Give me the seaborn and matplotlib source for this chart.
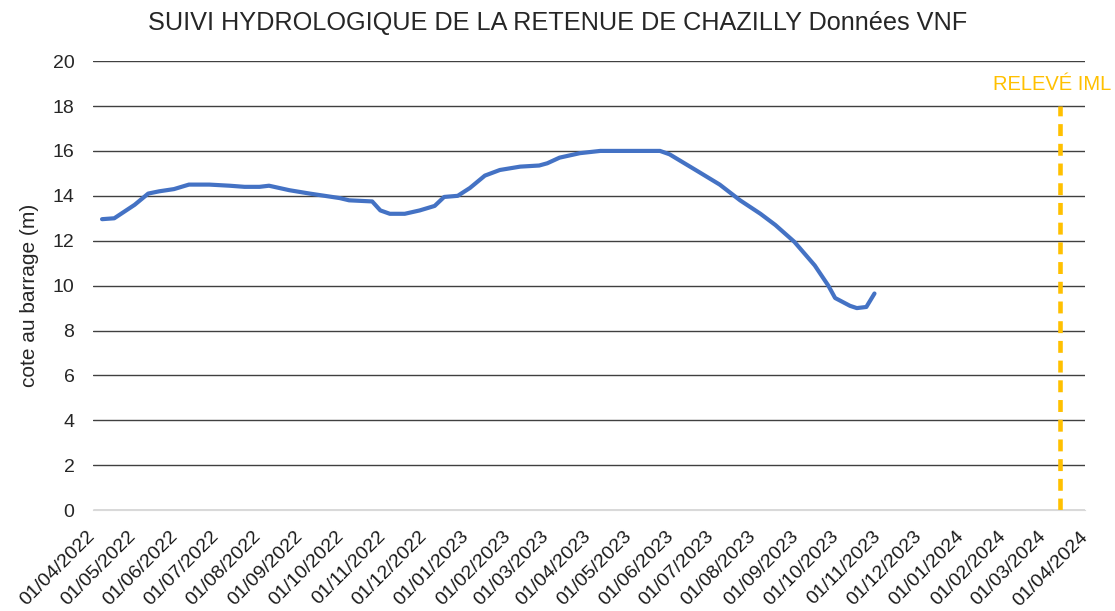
import seaborn as sns
import pandas as pd
import matplotlib.pyplot as plt
import matplotlib.dates as mdates
import matplotlib.transforms as mtransforms

# (dd/mm/yyyy, cote in m)
dates = ["08/04/2022", "17/04/2022", "02/05/2022", "12/05/2022", "20/05/2022", "31/05/2022",
         "11/06/2022", "26/06/2022", "11/07/2022", "22/07/2022", "02/08/2022", "09/08/2022",
         "24/08/2022", "08/09/2022", "30/09/2022", "07/10/2022", "24/10/2022", "30/10/2022",
         "06/11/2022", "17/11/2022", "28/11/2022", "09/12/2022", "16/12/2022", "26/12/2022",
         "04/01/2023", "15/01/2023", "26/01/2023", "10/02/2023", "24/02/2023", "02/03/2023",
         "11/03/2023", "26/03/2023", "10/04/2023", "24/05/2023", "31/05/2023", "22/06/2023",
         "07/07/2023", "22/07/2023", "06/08/2023", "17/08/2023", "31/08/2023", "15/09/2023",
         "25/09/2023", "30/09/2023", "11/10/2023", "16/10/2023", "23/10/2023", "29/10/2023"]
cote = [12.96, 13.0, 13.6, 14.1, 14.2, 14.3,
        14.5, 14.5, 14.45, 14.4, 14.4, 14.45,
        14.25, 14.1, 13.9, 13.8, 13.75, 13.35,
        13.2, 13.2, 13.35, 13.55, 13.95, 14.0,
        14.35, 14.9, 15.15, 15.3, 15.35, 15.45,
        15.7, 15.9, 16.0, 16.0, 15.85, 15.05,
        14.5, 13.8, 13.2, 12.7, 11.95, 10.9,
        10.0, 9.45, 9.1, 9.0, 9.05, 9.65]

releve_date = "14/03/2024"
releve_top = 18.0
releve_label = "RELEVÉ IML"

df = pd.DataFrame({"date": pd.to_datetime(dates, dayfirst=True), "cote": cote})

sns.set_style("white")
plt.rcParams['font.family'] = ['Liberation Sans', 'DejaVu Sans']

fig, ax = plt.subplots(figsize=(11.15, 6.11), dpi=100)
fig.subplots_adjust(left=0.083, right=0.973, top=0.9, bottom=0.165)

sns.lineplot(data=df, x="date", y="cote", color="#4472C4", linewidth=3, ax=ax)

rel = pd.to_datetime(releve_date, dayfirst=True)
ax.vlines(rel, 0, releve_top, color="#FFC000", linewidth=3.3, linestyles=[(0, (2.6, 1.7))])
ax.annotate(releve_label, xy=(rel, 18.95), xytext=(-6, 0), textcoords="offset points",
            color="#FFC000", fontsize=14.5, ha="center", va="center")

ax.set_xlim(pd.Timestamp("2022-04-01"), pd.Timestamp("2024-04-01"))
ax.set_ylim(0, 20)
ax.set_yticks(range(0, 21, 2))
ax.xaxis.set_major_locator(mdates.MonthLocator(bymonthday=1))
ax.xaxis.set_major_formatter(mdates.DateFormatter("%d/%m/%Y"))
ax.tick_params(axis="x", labelsize=14, length=4, color="#d9d9d9", pad=6, labelcolor="#1a1a1a")
ax.tick_params(axis="y", labelsize=14, length=0, pad=13, labelcolor="#262626")

# nudge the rotated date labels a little left/down, like the Excel original
shift = mtransforms.ScaledTranslation(-0.06, -0.04, fig.dpi_scale_trans)
for lab in ax.get_xticklabels():
    lab.set_rotation(45)
    lab.set_ha("right")
    lab.set_rotation_mode("anchor")
    lab.set_transform(lab.get_transform() + shift)

ax.grid(axis="y", color="#404040", linewidth=1)
ax.set_axisbelow(True)
for s in ["top", "right", "left"]:
    ax.spines[s].set_visible(False)
ax.spines["bottom"].set_color("#d9d9d9")
ax.spines["bottom"].set_zorder(3)

ax.set_xlabel("")
ax.set_ylabel("cote au barrage (m)", fontsize=15)
ax.yaxis.set_label_coords(-0.054, 0.479)
fig.suptitle("SUIVI HYDROLOGIQUE DE LA RETENUE DE CHAZILLY Données VNF", fontsize=18.2,
             y=0.962, va="center", x=0.5)

plt.savefig("out.png", dpi=100)
